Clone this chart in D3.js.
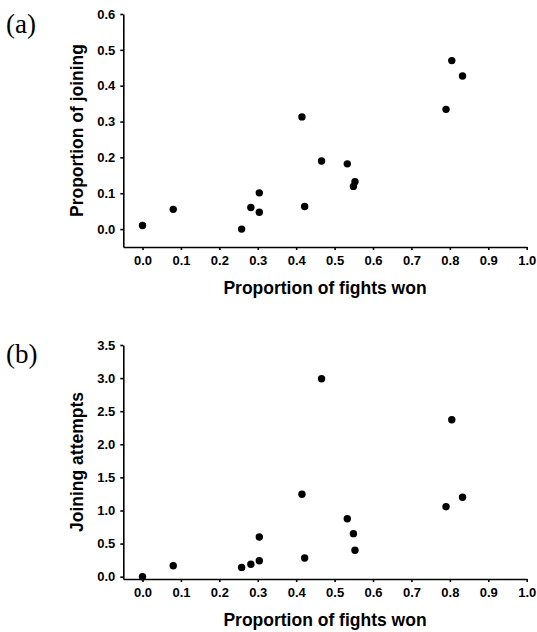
<!DOCTYPE html>
<html>
<head>
<meta charset="utf-8">
<script src="https://cdn.jsdelivr.net/npm/d3@7"></script>
<style>
  html, body { margin: 0; padding: 0; background: #fff; }
  svg { display: block; }
  .axis text { font-family: "Liberation Sans", Arial, sans-serif; font-weight: bold; font-size: 13px; fill: #000; }
  .axis path, .axis line { stroke: #000; stroke-width: 1.6px; }
  .title { font-family: "Liberation Sans", Arial, sans-serif; font-weight: bold; font-size: 17.5px; fill: #000; }
  .plabel { font-family: "Liberation Serif", "Times New Roman", serif; font-size: 27px; fill: #000; }
</style>
</head>
<body>
<svg id="chart" width="537" height="632"></svg>
<script>
// Data: proportion of fights won (shared x for both panels)
const fightsWon = [0.0, 0.08, 0.258, 0.282, 0.304, 0.304, 0.415, 0.422, 0.466, 0.533, 0.549, 0.553, 0.79, 0.805, 0.833];
// Panel (a): proportion of joining
const propJoining = [0.01, 0.055, 0.0, 0.06, 0.101, 0.047, 0.313, 0.063, 0.19, 0.182, 0.119, 0.132, 0.334, 0.47, 0.427];
// Panel (b): joining attempts
const joinAttempts = [0.0, 0.166, 0.14, 0.187, 0.6, 0.24, 1.245, 0.283, 2.99, 0.876, 0.65, 0.40, 1.057, 2.37, 1.2];

const xTicks = [0.0, 0.1, 0.2, 0.3, 0.4, 0.5, 0.6, 0.7, 0.8, 0.9, 1.0];
const yTicksA = [0.0, 0.1, 0.2, 0.3, 0.4, 0.5, 0.6];
const yTicksB = [0.0, 0.5, 1.0, 1.5, 2.0, 2.5, 3.0, 3.5];

const xTitle = "Proportion of fights won";
const panels = [
  { label: "(a)", yTitle: "Proportion of joining", values: propJoining, yTicks: yTicksA,
    yDomain: [-0.05, 0.6], top: 14, bottom: 247, labelY: 24 },
  { label: "(b)", yTitle: "Joining attempts", values: joinAttempts, yTicks: yTicksB,
    yDomain: [-0.035, 3.5], top: 345, bottom: 579, labelY: 354 }
];

const svg = d3.select("#chart");
const left = 123.3, right = 526.7;
const x = d3.scaleLinear().domain([-0.05, 1.0]).range([left, right]);
const fmt = d3.format(".1f");

panels.forEach(p => {
  const y = d3.scaleLinear().domain(p.yDomain).range([p.bottom, p.top]);
  const g = svg.append("g");

  g.append("g")
    .attr("class", "axis")
    .attr("transform", `translate(0,${p.bottom})`)
    .call(d3.axisBottom(x).tickValues(xTicks).tickFormat(fmt).tickSize(3).tickSizeOuter(0).tickPadding(6));

  g.append("g")
    .attr("class", "axis")
    .attr("transform", `translate(${left},0)`)
    .call(d3.axisLeft(y).tickValues(p.yTicks).tickFormat(fmt).tickSize(3).tickSizeOuter(0).tickPadding(5));

  g.selectAll("circle.pt")
    .data(fightsWon.map((fx, i) => [fx, p.values[i]]))
    .enter().append("circle")
    .attr("class", "pt")
    .attr("cx", d => x(d[0]))
    .attr("cy", d => y(d[1]))
    .attr("r", 3.7)
    .attr("fill", "#000");

  g.append("text")
    .attr("class", "title")
    .attr("x", (left + right) / 2)
    .attr("y", p.bottom + 47)
    .attr("text-anchor", "middle")
    .text(xTitle);

  g.append("text")
    .attr("class", "title")
    .attr("transform", `translate(83,${(p.top + p.bottom) / 2}) rotate(-90)`)
    .attr("text-anchor", "middle")
    .text(p.yTitle);

  g.append("text")
    .attr("class", "plabel")
    .attr("x", 6)
    .attr("y", p.labelY + 9)
    .text(p.label);
});
</script>
</body>
</html>
